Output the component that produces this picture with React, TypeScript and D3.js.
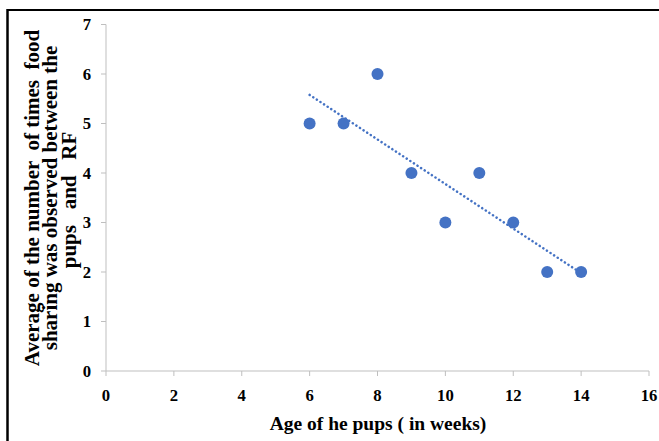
import React from "react";
import * as d3 from "d3";

// weeks of age and average food sharing count
const ages = [6, 7, 8, 9, 10, 11, 12, 13, 14];
const sharing = [5, 5, 6, 4, 3, 4, 3, 2, 2];
const xTicks = [0, 2, 4, 6, 8, 10, 12, 14, 16];
const yTicks = [0, 1, 2, 3, 4, 5, 6, 7];
const yTitleLines = [
  "Average of the number  of times  food",
  "sharing was observed between the",
  "pups   and   RF",
];
const xTitle = "Age of he pups ( in weeks)";

const width = 659;
const height = 441;
const margin = { top: 24.5, right: 10, bottom: 70, left: 106 };

const App = () => {
  const xScale = d3
    .scaleLinear()
    .domain([0, 16])
    .range([margin.left, width - margin.right]);
  const yScale = d3
    .scaleLinear()
    .domain([0, 7])
    .range([height - margin.bottom, margin.top]);

  // linear trendline (least squares), like Excel's
  const mx = d3.mean(ages)!;
  const my = d3.mean(sharing)!;
  const sxy = d3.sum(ages, (x, i) => (x - mx) * (sharing[i] - my));
  const sxx = d3.sum(ages, (x) => (x - mx) ** 2);
  const slope = sxy / sxx;
  const icpt = my - slope * mx;
  const x0 = d3.min(ages)!;
  const x1 = d3.max(ages)!;

  const font = "'Liberation Serif', 'Times New Roman', serif";
  const axisColor = "#bfbfbf";

  return (
    <div style={{ position: "absolute", left: 0, top: 0 }}>
      <svg width={width} height={height} style={{ display: "block", background: "#fff" }}>
        {/* frame */}
        <line x1={7} x2={width} y1={10} y2={10} stroke="black" strokeWidth={2} />
        <line x1={7.5} x2={7.5} y1={9} y2={height} stroke="black" strokeWidth={2.5} />

        {/* X axis */}
        <g transform={`translate(0, ${yScale(0)})`}>
          <line x1={xScale(0)} x2={xScale(16)} stroke={axisColor} />
          {xTicks.map((t) => (
            <g key={t} transform={`translate(${xScale(t)}, 0)`}>
              <line y2={5} stroke={axisColor} />
              <text
                y={29.5}
                textAnchor="middle"
                fontFamily={font}
                fontWeight="bold"
                fontSize={16.7}
                fill="#000"
              >
                {t}
              </text>
            </g>
          ))}
        </g>

        {/* Y axis */}
        <g transform={`translate(${xScale(0)}, 0)`}>
          <line y1={yScale(7)} y2={yScale(0)} stroke={axisColor} />
          {yTicks.map((t) => (
            <g key={t} transform={`translate(0, ${yScale(t)})`}>
              <line x2={-5} stroke={axisColor} />
              <text
                x={-15}
                dy="0.35em"
                textAnchor="end"
                fontFamily={font}
                fontWeight="bold"
                fontSize={16.7}
                fill="#000"
              >
                {t}
              </text>
            </g>
          ))}
        </g>

        {/* trendline */}
        <line
          x1={xScale(x0)}
          y1={yScale(slope * x0 + icpt)}
          x2={xScale(x1)}
          y2={yScale(slope * x1 + icpt)}
          stroke="#4472C4"
          strokeWidth={2.5}
          strokeDasharray="0.1 4.2"
          strokeLinecap="round"
        />

        {/* points */}
        {ages.map((a, i) => (
          <circle key={a} cx={xScale(a)} cy={yScale(sharing[i])} r={6} fill="#4472C4" />
        ))}

        {/* axis titles */}
        <text
          x={378}
          y={430}
          textAnchor="middle"
          fontFamily={font}
          fontWeight="bold"
          fontSize={19.5}
          fill="#000"
        >
          {xTitle}
        </text>
        {yTitleLines.map((line, i) => (
          <text
            key={i}
            transform={`translate(${38.5 + i * 18.5}, ${i === 2 ? 200 : 198}) rotate(-90)`}
            textAnchor="middle"
            fontFamily={font}
            fontWeight="bold"
            fontSize={21}
            fill="#000"
            style={{ whiteSpace: "pre" }}
          >
            {line}
          </text>
        ))}
      </svg>
    </div>
  );
};

export default App;
